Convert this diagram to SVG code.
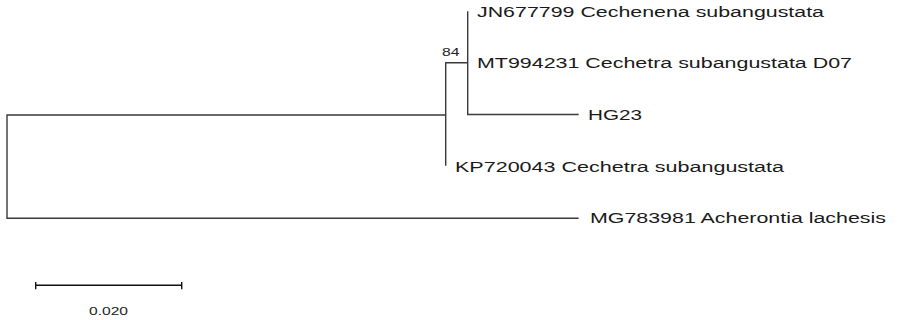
<svg xmlns="http://www.w3.org/2000/svg" width="897" height="320" viewBox="0 0 897 320">
<style>
.br{stroke:#3a3a3a;stroke-width:1.4;fill:none;stroke-linecap:square}
.sb{stroke:#111;stroke-width:1.4;fill:none}
.lbl{font-family:"Liberation Sans",Arial,sans-serif;font-size:14px;fill:#1a1a1a}
.bs{font-family:"Liberation Sans",Arial,sans-serif;font-size:11px;fill:#222}
</style>
<rect width="897" height="320" fill="#fff"/>
<g id="connectors">
<path class="br" d="M7,115 V218.3 M7,115 H445.7 M7,218.3 H578 M445.7,62.7 V165 M445.7,62.7 H467.7 M467.7,12 V114.5 M467.7,114.5 H578"/>
</g>
<g id="leaf-JN677799"><text class="lbl" x="477" y="17" textLength="347" lengthAdjust="spacingAndGlyphs">JN677799 Cechenena subangustata</text></g>
<g id="leaf-MT994231"><text class="lbl" x="477" y="68" textLength="375" lengthAdjust="spacingAndGlyphs">MT994231 Cechetra subangustata D07</text></g>
<g id="leaf-HG23"><text class="lbl" x="588" y="120" textLength="54" lengthAdjust="spacingAndGlyphs">HG23</text></g>
<g id="leaf-KP720043"><text class="lbl" x="455" y="171.5" textLength="329" lengthAdjust="spacingAndGlyphs">KP720043 Cechetra subangustata</text></g>
<g id="leaf-MG783981"><text class="lbl" x="590" y="223" textLength="296" lengthAdjust="spacingAndGlyphs">MG783981 Acherontia lachesis</text></g>
<g id="bootstrap-84"><text class="bs" x="442" y="56" textLength="17.5" lengthAdjust="spacingAndGlyphs">84</text></g>
<g id="scale-bar">
<path class="sb" d="M35.7,285.3 H181.7 M35.7,282 V289.3 M181.7,282 V289.3"/>
<text class="bs" x="108.5" y="315" text-anchor="middle" font-size="11.5" textLength="39" lengthAdjust="spacingAndGlyphs">0.020</text>
</g>
</svg>
